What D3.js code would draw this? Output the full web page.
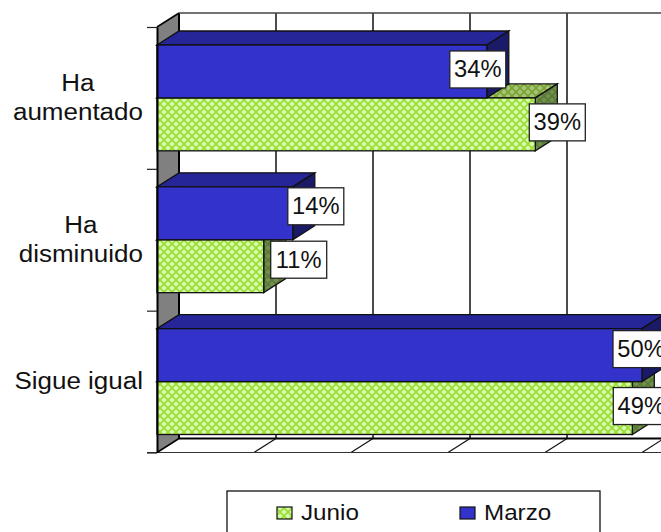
<!DOCTYPE html>
<html>
<head>
<meta charset="utf-8">
<script src="https://cdn.jsdelivr.net/npm/d3@7"></script>
<style>
html, body { margin: 0; padding: 0; background: #fff; overflow: hidden; }
svg { display: block; }
text { font-family: "Liberation Sans", Arial, sans-serif; fill: #111; }
</style>
</head>
<body>
<svg id="chart" width="661" height="532"></svg>
<script>
// values
const categories = ["Ha aumentado", "Ha disminuido", "Sigue igual"];
const categoryLines = [["Ha", "aumentado"], ["Ha", "disminuido"], ["Sigue igual"]];
const seriesNames = ["Junio", "Marzo"];
const junio = [0.39, 0.11, 0.49];
const marzo = [0.34, 0.14, 0.50];
const xTicks = [0, 0.1, 0.2, 0.3, 0.4, 0.5, 0.6];

// labels were dragged by hand in the original, so they sit at uneven offsets
const labelShift = {
    Junio: [[22, -2], [35, -6.5], [9, -2]],
    Marzo: [[-9, -2], [23, -7], [-1, -6]]
};

const svg = d3.select("#chart");
const depth = { x: 22, y: 14 };
const plotTop = 27, plotBottom = 452.5, plotLeft = 157;

const xScale = d3.scaleLinear().domain([0, 0.6]).range([plotLeft, plotLeft + 582]);
const yBand = d3.scaleBand().domain(categories).range([plotTop, plotBottom]);
const yInner = d3.scaleBand().domain(["Marzo", "Junio"])
    .range([18, yBand.bandwidth() - 18]);

const colors = {
    Marzo: { front: "#3333cc", top: "#262699", side: "#1a1a66" },
    Junio: { front: "url(#lattice)", top: "url(#latticeTop)", side: "url(#latticeSide)" }
};

function addLattice(id, bg, line) {
    const p = svg.append("defs").append("pattern")
        .attr("id", id)
        .attr("patternUnits", "userSpaceOnUse")
        .attr("width", 8).attr("height", 8);
    p.append("rect").attr("width", 8).attr("height", 8).attr("fill", bg);
    p.append("path")
        .attr("d", "M0,0L8,8M8,0L0,8")
        .attr("stroke", line).attr("stroke-width", 1.6);
}
addLattice("lattice", "#ccffb0", "#a3d92e");
addLattice("latticeTop", "#a0c878", "#7fa030");
addLattice("latticeSide", "#6f8f55", "#5a7a30");

// side wall
svg.append("polygon")
    .attr("points", [[plotLeft, plotTop], [plotLeft + depth.x, plotTop - depth.y], [plotLeft + depth.x, plotBottom - depth.y], [plotLeft, plotBottom]].join(" "))
    .attr("fill", "#808080");
svg.append("line")
    .attr("x1", plotLeft + depth.x).attr("x2", plotLeft + depth.x)
    .attr("y1", plotTop - depth.y).attr("y2", plotBottom - depth.y)
    .attr("stroke", "#000").attr("stroke-width", 2);
svg.append("line")
    .attr("x1", plotLeft).attr("x2", plotLeft + depth.x)
    .attr("y1", plotTop).attr("y2", plotTop - depth.y)
    .attr("stroke", "#000").attr("stroke-width", 1.5);
svg.append("line")
    .attr("x1", plotLeft).attr("x2", plotLeft + depth.x)
    .attr("y1", plotBottom).attr("y2", plotBottom - depth.y)
    .attr("stroke", "#000").attr("stroke-width", 1.5);

// back wall gridlines and floor
svg.append("g").selectAll("line")
    .data(xTicks.slice(1))
    .enter()
    .append("line")
    .attr("x1", d => xScale(d) + depth.x)
    .attr("x2", d => xScale(d) + depth.x)
    .attr("y1", plotTop - depth.y)
    .attr("y2", plotBottom - depth.y)
    .attr("stroke", "#111").attr("stroke-width", 1.5);
svg.append("line")
    .attr("x1", plotLeft + depth.x).attr("x2", 661)
    .attr("y1", plotTop - depth.y).attr("y2", plotTop - depth.y)
    .attr("stroke", "#444").attr("stroke-width", 1.5);
svg.append("line")
    .attr("x1", plotLeft + depth.x).attr("x2", 661)
    .attr("y1", plotBottom - depth.y).attr("y2", plotBottom - depth.y)
    .attr("stroke", "#000").attr("stroke-width", 2);
svg.append("g").selectAll("line")
    .data(xTicks.slice(1))
    .enter()
    .append("line")
    .attr("x1", d => xScale(d))
    .attr("x2", d => xScale(d) + depth.x)
    .attr("y1", plotBottom)
    .attr("y2", plotBottom - depth.y)
    .attr("stroke", "#111").attr("stroke-width", 1.2);
svg.append("line")
    .attr("x1", plotLeft - 10).attr("x2", 661)
    .attr("y1", plotBottom).attr("y2", plotBottom)
    .attr("stroke", "#333").attr("stroke-width", 1.2);

// bars, Junio below first so Marzo overlaps it
function drawBars(name, values) {
    const c = colors[name];
    const g = svg.append("g");
    values.forEach(function (v, i) {
        const x0 = xScale(0), x1 = xScale(v);
        const y0 = yBand(categories[i]) + yInner(name);
        const y1 = y0 + yInner.bandwidth();
        g.append("polygon")
            .attr("points", [[x0, y0], [x0 + depth.x, y0 - depth.y], [x1 + depth.x, y0 - depth.y], [x1, y0]].join(" "))
            .attr("fill", c.top).attr("stroke", "#111").attr("stroke-width", 1.3);
        g.append("polygon")
            .attr("points", [[x1, y0], [x1 + depth.x, y0 - depth.y], [x1 + depth.x, y1 - depth.y], [x1, y1]].join(" "))
            .attr("fill", c.side).attr("stroke", "#111").attr("stroke-width", 1.3);
        g.append("rect")
            .attr("x", x0).attr("y", y0)
            .attr("width", x1 - x0).attr("height", y1 - y0)
            .attr("fill", c.front).attr("stroke", "#111").attr("stroke-width", 1.3);
    });
}
drawBars("Junio", junio);
drawBars("Marzo", marzo);

// category axis, ticks on the band edges
const yAxisScale = d3.scaleLinear().domain([0, categories.length]).range([plotTop, plotBottom]);
const yAxis = svg.append("g")
    .attr("transform", "translate(" + plotLeft + ",0)")
    .call(d3.axisLeft(yAxisScale).tickValues([0, 1, 2, 3]).tickSize(10).tickSizeOuter(0).tickFormat(""));
yAxis.selectAll("line").attr("stroke", "#222").attr("stroke-width", 1.2);
yAxis.select(".domain").attr("stroke", "#000").attr("stroke-width", 2);

// the source text is wider than the font, stretch it sideways
function stretch(sel, k) {
    const w = sel.node().getComputedTextLength();
    sel.attr("textLength", w * k).attr("lengthAdjust", "spacingAndGlyphs");
    return w * k;
}

categoryLines.forEach(function (lines, i) {
    const mid = yBand(categories[i]) + yBand.bandwidth() / 2;
    const texts = lines.map(function (line, j) {
        return svg.append("text")
            .attr("text-anchor", "middle")
            .attr("y", mid + 7.5 + (j - (lines.length - 1) / 2) * 28.5)
            .style("font-size", "23px")
            .text(line);
    });
    const widths = texts.map(s => stretch(s, 1.13));
    texts.forEach(s => s.attr("x", 143 - d3.max(widths) / 2));
});

// value labels
function drawLabels(name, values) {
    values.forEach(function (v, i) {
        const s = labelShift[name][i];
        const cx = xScale(v) + s[0];
        const cy = yBand(categories[i]) + yInner(name) + yInner.bandwidth() / 2 + s[1];
        svg.append("rect")
            .attr("x", cx - 28).attr("y", cy - 18.5)
            .attr("width", 56).attr("height", 37)
            .attr("fill", "#fff").attr("stroke", "#222").attr("stroke-width", 1.3);
        const t = svg.append("text")
            .attr("x", cx).attr("y", cy + 8)
            .attr("text-anchor", "middle")
            .style("font-size", "23px")
            .text(d3.format(".0%")(v));
        stretch(t, 1.03);
    });
}
drawLabels("Junio", junio);
drawLabels("Marzo", marzo);

// legend
svg.append("rect")
    .attr("x", 227).attr("y", 491)
    .attr("width", 373).attr("height", 50)
    .attr("fill", "#fff").attr("stroke", "#111").attr("stroke-width", 1.3);
const legendX = d3.scalePoint().domain(seriesNames).range([277, 460]);
seriesNames.forEach(function (name) {
    svg.append("rect")
        .attr("x", legendX(name)).attr("y", 507)
        .attr("width", 15).attr("height", 12)
        .attr("fill", colors[name].front).attr("stroke", "#111").attr("stroke-width", 1.2);
    const t = svg.append("text")
        .attr("x", legendX(name) + 24).attr("y", 520)
        .style("font-size", "22px")
        .text(name);
    stretch(t, 1.1);
});
</script>
</body>
</html>
